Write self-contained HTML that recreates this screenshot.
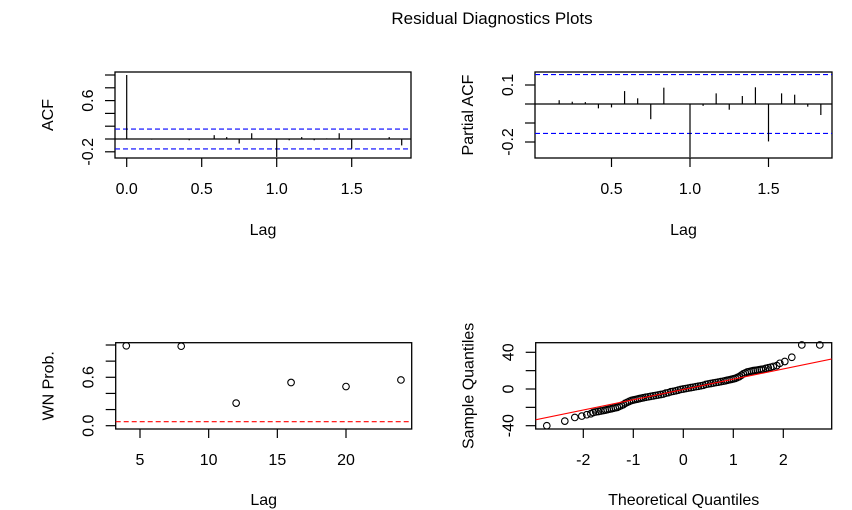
<!DOCTYPE html>
<html><head><meta charset="utf-8"><style>
html,body{margin:0;padding:0;background:#fff;}
svg{display:block;font-family:"Liberation Sans",Arial,sans-serif;}
</style></head><body>
<svg id="c" width="852" height="510" viewBox="0 0 852 510">
<text x="492" y="24" font-size="17" text-anchor="middle">Residual Diagnostics Plots</text>
</svg>
<script>
// ACF data (lags k/12, k=0..22)
const acfValues=[1,0.00,-0.01,0.00,0.00,-0.02,0.00,0.06,0.03,-0.07,0.09,0.00,-0.28,-0.02,0.03,-0.02,0.01,0.09,-0.15,0.00,0.00,0.03,-0.10];
const acfBound=0.155;
// PACF data (k=1..22)
const pacfValues=[0.00,0.02,0.012,0.01,-0.023,-0.018,0.068,0.03,-0.08,0.086,0.00,-0.28,-0.01,0.056,-0.03,0.042,0.088,-0.197,0.056,0.049,-0.014,-0.058];
const pacfBound=0.155;
// White noise p-values
const wnLags=[4,8,12,16,20,24];
const wnProb=[0.99,0.985,0.28,0.535,0.485,0.567];
const wnLevel=0.05;
// QQ data
const qqTheo=[-2.73,-2.37,-2.17,-2.03,-1.93,-1.85,-1.8,-1.75,-1.7,-1.65,-1.6,-1.56,-1.52,-1.48,-1.44,-1.4,-1.36,-1.32,-1.28,-1.24,-1.2,-1.16,-1.12,-1.08,-1.04,-1.0,-0.96,-0.92,-0.88,-0.84,-0.8,-0.75,-0.7,-0.65,-0.6,-0.55,-0.5,-0.45,-0.4,-0.35,-0.3,-0.25,-0.2,-0.15,-0.1,-0.05,0,0.05,0.1,0.15,0.2,0.25,0.3,0.35,0.4,0.45,0.5,0.55,0.6,0.65,0.7,0.75,0.8,0.84,0.88,0.92,0.96,1.0,1.04,1.08,1.12,1.16,1.2,1.24,1.28,1.32,1.36,1.4,1.44,1.48,1.52,1.56,1.6,1.65,1.7,1.75,1.8,1.87,1.93,2.03,2.17,2.37,2.73];
const qqSample=[-40,-35,-31,-29.5,-28,-27,-25.6,-25,-24.5,-24,-23.5,-23,-22.5,-22,-21.5,-21,-20.5,-20,-19,-18,-17,-15.5,-14.5,-13.5,-12.5,-12,-11.5,-11,-10.5,-10,-9.5,-9,-8.5,-8,-7.5,-7,-6.5,-6,-5.5,-4.5,-4,-3,-2.5,-2,-1.2,-0.5,0,0.5,1,1.5,2,2.5,3,3.5,4,5,5.5,6,6.5,7,7.5,8,8.5,9,9.5,10,10.5,11,11.6,12.5,13.5,15,16.5,17.5,18.5,19,19.5,20,20.3,20.6,21,21.4,21.7,22.5,23.2,23.8,24.6,25.5,28,30,34.6,48,48];
const qqLine=[-0.5,11.2]; // intercept, slope
const xAcfTicks=[0,0.5,1.0,1.5], xAcfLabels=["0.0","0.5","1.0","1.5"];
const yAcfTicks=[-0.2,0,0.2,0.4,0.6,0.8,1.0], yAcfLabeled=["-0.2","0.6"];
const xPacfTicks=[0.5,1.0,1.5], xPacfLabels=["0.5","1.0","1.5"];
const yPacfTicks=[-0.2,-0.1,0,0.1], yPacfLabeled=["-0.2","0.1"];
const xWnTicks=[5,10,15,20];
const yWnTicks=[0,0.2,0.4,0.6,0.8,1.0], yWnLabeled=["0.0","0.6"];
const xQqTicks=[-2,-1,0,1,2];
const yQqTicks=[-40,-20,0,20,40], yQqLabeled=["-40","0","40"];

const svg=document.getElementById('c');
const NS='http://www.w3.org/2000/svg';
function mk(tag,attrs,parent){const e=document.createElementNS(NS,tag);for(const k in attrs)e.setAttribute(k,attrs[k]);(parent||svg).appendChild(e);return e;}
function lin(d0,d1,r0,r1){return v=>r0+(v-d0)*(r1-r0)/(d1-d0);}
function fmt(v,d){return v.toFixed(d);}

function panel(name,box,sx,sy,xt,xl,yt,ylab,yd,xlabel,ylabel,xlabY){
  const g=mk('g',{});
  
  
  const r=mk('rect',{x:box[0],y:box[1],width:box[2]-box[0],height:box[3]-box[1],fill:'none',stroke:'#000','stroke-width':1.3},g);
  
  
  xt.forEach((t,i)=>{const x=sx(t);
    const l=mk('line',{x1:x,x2:x,y1:box[3],y2:box[3]+9,stroke:'#000','stroke-width':1.2},g);
    
    
    const tx=mk('text',{x:x,y:box[3]+36,'font-size':16,'text-anchor':'middle'},g);
    
    
    tx.textContent=xl[i];});
  yt.forEach(t=>{const y=sy(t);
    const l=mk('line',{x1:box[0]-10,x2:box[0],y1:y,y2:y,stroke:'#000','stroke-width':1.2},g);
    
    
    const s=fmt(t,yd);
    if(ylab.includes(s)){
      const tx=mk('text',{x:0,y:0,'font-size':16,'text-anchor':'middle',transform:`translate(${box[0]-22},${y}) rotate(-90)`},g);
      
      
      tx.textContent=s;}
  });
  const xlT=mk('text',{x:(box[0]+box[2])/2,y:xlabY,'font-size':16,'text-anchor':'middle'},g);
  
  
  xlT.textContent=xlabel;
  const ylT=mk('text',{x:0,y:0,'font-size':16,'text-anchor':'middle',transform:`translate(${box[0]-62},${(box[1]+box[3])/2}) rotate(-90)`},g);
  
  
  ylT.textContent=ylabel;
  return g;
}
function hline(g,x0,x1,y,col,dash,name){const l=mk('line',{x1:x0,x2:x1,y1:y,y2:y,stroke:col,'stroke-width':1.2,'stroke-dasharray':dash||''},g);
  
  }

// ACF
{const box=[115,72,411,158];const sx=lin(0,1,126.7,276.7);const sy=lin(0,1,139,75);
 const g=panel('acf-panel',box,sx,sy,xAcfTicks,xAcfLabels,yAcfTicks,yAcfLabeled,1,'Lag','ACF',235);
 hline(g,box[0],box[2],sy(0),'#000','','zero-line');
 hline(g,box[0],box[2],sy(acfBound),'#0000ff','5,3','upper-confidence-bound');
 hline(g,box[0],box[2],sy(-acfBound),'#0000ff','5,3','lower-confidence-bound');
 acfValues.forEach((v,k)=>{const x=sx(k/12);const l=mk('line',{x1:x,x2:x,y1:sy(0),y2:sy(v),stroke:'#000','stroke-width':1.2},g);
  
  });}
// PACF
{const box=[535,72,832,158];const sx=lin(0,1,533,690);const sy=lin(0,0.1,104,85);
 const g=panel('pacf-panel',box,sx,sy,xPacfTicks,xPacfLabels,yPacfTicks,yPacfLabeled,1,'Lag','Partial ACF',235);
 hline(g,box[0],box[2],sy(0),'#000','','zero-line');
 hline(g,box[0],box[2],sy(pacfBound),'#0000ff','5,3','upper-confidence-bound');
 hline(g,box[0],box[2],sy(-pacfBound),'#0000ff','5,3','lower-confidence-bound');
 pacfValues.forEach((v,i)=>{const x=sx((i+1)/12);const l=mk('line',{x1:x,x2:x,y1:sy(0),y2:sy(v),stroke:'#000','stroke-width':1.2},g);
  
  });}
// WN
{const box=[115.7,342.7,411.7,429];const sx=lin(5,20,140,346);const sy=lin(0,1,425.7,345);
 const g=panel('wn-prob-panel',box,sx,sy,xWnTicks,xWnTicks.map(String),yWnTicks,yWnLabeled,1,'Lag','WN Prob.',505);
 hline(g,box[0],box[2],sy(wnLevel),'#ff0000','5,3','significance-level-line');
 wnLags.forEach((l,i)=>{const c=mk('circle',{cx:sx(l),cy:sy(wnProb[i]),r:3.3,fill:'none',stroke:'#000','stroke-width':1.1},g);
  
  });}
// QQ
{const box=[535.7,342.7,831.7,429];const sx=lin(0,1,683.3,733.3);const sy=lin(0,40,389,352.3);
 const g=panel('qq-panel',box,sx,sy,xQqTicks,xQqTicks.map(String),yQqTicks,yQqLabeled,0,'Theoretical Quantiles','Sample Quantiles',505);
 const clip=mk('clipPath',{id:'qqclip'},g);mk('rect',{x:box[0],y:box[1],width:box[2]-box[0],height:box[3]-box[1]},clip);
 qqTheo.forEach((t,i)=>{const c=mk('circle',{cx:sx(t),cy:sy(qqSample[i]),r:3.3,fill:'none',stroke:'#000','stroke-width':1.1},g);
  
  });
 const t0=-3.2,t1=3.2;
 const l=mk('line',{x1:sx(t0),x2:sx(t1),y1:sy(qqLine[0]+qqLine[1]*t0),y2:sy(qqLine[0]+qqLine[1]*t1),stroke:'#ff0000','stroke-width':1.1,'clip-path':'url(#qqclip)'},g);
 
 }
</script>
</body></html>
